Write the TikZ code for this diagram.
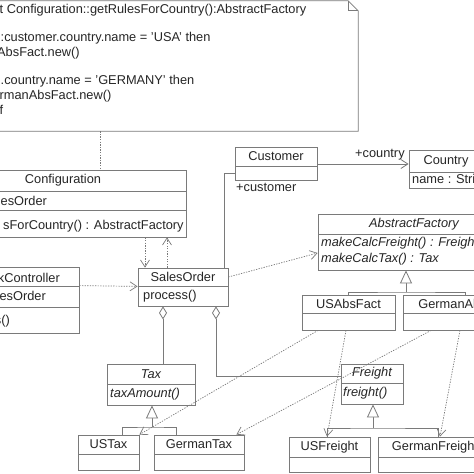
\documentclass[tikz,border=0pt]{standalone}
\usepackage{fontspec}
\setmainfont{Liberation Sans}
\usetikzlibrary{arrows.meta}

\definecolor{umlline}{HTML}{7A7A7A}
\definecolor{umltext}{HTML}{262626}

\tikzset{
  umlfont/.style={font=\fontsize{12.8}{15}\selectfont},
  cls/.style={draw=umlline, fill=white, line width=0.8pt, inner sep=0pt, text=umltext, umlfont},
  txt/.style={inner sep=0pt, anchor=west, text=umltext, umlfont},
  link/.style={draw=umlline, line width=0.8pt},
  dep/.style={draw=umlline, line width=0.7pt, dash pattern=on 1.3pt off 1.3pt, -{Straight Barb[length=7pt,width=9pt]}},
  gen/.style={link, -{Triangle[open,length=13pt,width=12pt,fill=white]}},
  agg/.style={link, {Diamond[open,length=13pt,width=8pt,fill=white]}-},
}

\begin{document}
\begin{tikzpicture}[x=1pt,y=-1pt]
\useasboundingbox (0,0) rectangle (474,474);
\clip (0,0) rectangle (474,474);
\fill[white] (0,0) rectangle (474,474);

% note
\node[inner sep=0pt, minimum width=368pt, minimum height=130pt] (note) at (174,66) {};
\draw[link] (note.north west) -- ([xshift=-10]note.north east) -- ([yshift=-10]note.north east)
  -- (note.south east) -- (note.south west) -- cycle;
\draw[link] ([xshift=-10]note.north east) -- ([xshift=-10,yshift=-10]note.north east) -- ([yshift=-10]note.north east);
\node[txt] (ocl1) at (-0.5,10) {t Configuration::getRulesForCountry():AbstractFactory};
\node[txt] (ocl2) at (0.5,38.5) {:customer.country.name = 'USA' then};
\node[txt] (ocl3) at (-3,53) {AbsFact.new()};
\node[txt] (ocl4) at (0.5,81.5) {.country.name = 'GERMANY' then};
\node[txt] (ocl5) at (-0.5,96) {rmanAbsFact.new()};
\node[txt] (ocl6) at (-0.5,110) {f};

% Configuration
\node[cls, minimum width=246pt, minimum height=21pt] (cfg) at (63,180.5) {Configuration};
\node[cls, minimum width=246pt, minimum height=19pt] (cfgA) at (63,200.5) {};
\node[cls, minimum width=246pt, minimum height=27pt] (cfgO) at (63,223.5) {};
\node[txt] (cfgAt) at (0.5,201) {esOrder};
\node[txt] (cfgOt) at (3,226) {sForCountry() : AbstractFactory};

% controller
\node[cls, minimum width=159pt, minimum height=19pt] (ctl) at (-0.5,276.5) {};
\node[cls, minimum width=159pt, minimum height=21pt] (ctlA) at (-0.5,296.5) {};
\node[cls, minimum width=159pt, minimum height=26pt] (ctlO) at (-0.5,320) {};
\node[txt, anchor=east] (ctlN) at (60,278) {kController};
\node[txt, anchor=east] (ctlAt) at (46,296) {esOrder};
\node[txt, anchor=east] (ctlOt) at (10,321) {s()};

% SalesOrder
\node[cls, minimum width=90pt, minimum height=18pt] (so) at (183,277) {SalesOrder};
\node[cls, minimum width=90pt, minimum height=20pt] (soO) at (183,296) {};
\node[txt] (soOt) at (143,296) {process()};

% Customer, Country
\node[cls, minimum width=82pt, minimum height=19pt] (cust) at (276,156.5) {Customer};
\node[cls, minimum width=82pt, minimum height=14pt] (custA) at (276,173) {};
\node[cls, minimum width=74pt, minimum height=22pt] (ctry) at (446,161) {Country};
\node[cls, minimum width=74pt, minimum height=16pt] (ctryA) at (446,180) {};
\node[txt] (ctryAt) at (412,180) {name : String};

% AbstractFactory
\node[cls, minimum width=192pt, minimum height=20pt, font=\fontsize{12.8}{15}\selectfont\itshape] (absf) at (414,224) {AbstractFactory};
\node[cls, minimum width=192pt, minimum height=36pt] (absfO) at (414,252) {};
\node[txt, font=\fontsize{12.8}{15}\selectfont\itshape] (absfO1) at (321,243) {makeCalcFreight() : Freight};
\node[txt, font=\fontsize{12.8}{15}\selectfont\itshape] (absfO2) at (321,259) {makeCalcTax() : Tax};

\node[cls, minimum width=93pt, minimum height=18pt] (usaf) at (348.5,304) {USAbsFact};
\node[cls, minimum width=93pt, minimum height=17pt] (usafA) at (348.5,321.5) {};
\node[cls, minimum width=124pt, minimum height=18pt] (gaf) at (465,304) {GermanAbsFact};
\node[cls, minimum width=124pt, minimum height=17pt] (gafA) at (465,321.5) {};

% Tax, Freight
\node[cls, minimum width=88pt, minimum height=20pt, font=\fontsize{12.8}{15}\selectfont\itshape] (tax) at (151,374) {Tax};
\node[cls, minimum width=88pt, minimum height=21pt] (taxO) at (151,394.5) {};
\node[txt, font=\fontsize{12.8}{15}\selectfont\itshape] (taxOt) at (110,394) {taxAmount()};
\node[cls, minimum width=62pt, minimum height=19pt, font=\fontsize{12.8}{15}\selectfont\itshape] (frt) at (372,373.5) {Freight};
\node[cls, minimum width=62pt, minimum height=21pt] (frtO) at (372,393.5) {};
\node[txt, font=\fontsize{12.8}{15}\selectfont\itshape] (frtOt) at (343,393) {freight()};

\node[cls, minimum width=61pt, minimum height=19pt] (ustax) at (108.5,444.5) {USTax};
\node[cls, minimum width=61pt, minimum height=16pt] (ustaxA) at (108.5,462) {};
\node[cls, minimum width=90pt, minimum height=19pt] (gtax) at (199,444.5) {GermanTax};
\node[cls, minimum width=90pt, minimum height=16pt] (gtaxA) at (199,462) {};
\node[cls, minimum width=81pt, minimum height=20pt] (usfr) at (329.5,447) {USFreight};
\node[cls, minimum width=81pt, minimum height=15pt] (usfrA) at (329.5,464.5) {};
\node[cls, minimum width=114pt, minimum height=20pt] (gfr) at (435,447) {GermanFreight};
\node[cls, minimum width=114pt, minimum height=15pt] (gfrA) at (435,464.5) {};

% connectors
\draw[link, dash pattern=on 1.3pt off 1.3pt] (note.south -| 100,0) -- (cfg.north -| 100,0);
\draw[dep] ([xshift=82]cfgO.south) -- ([xshift=-38]so.north);
\draw[dep] ([xshift=-16]so.north) -- ([xshift=104]cfgO.south);
\draw[dep] (ctlA.north east) -- (so.south west);
\draw[dep] (so.east) -- ([yshift=-1]absfO.west);

\draw[link] (custA.west) -| ([xshift=41]so.north);
\node[txt] (custL) at (236,187) {+customer};
\draw[link, -{Straight Barb[length=7pt,width=9pt]}] ([yshift=-7.5]cust.east) -- ([yshift=-7.5]cust.east -| ctry.west);
\node[txt] (ctryL) at (355,155) {+country};

\coordinate (afj) at (406,292);
\draw[link] (usaf.north) |- (afj) -| (gaf.north);
\draw[gen] (afj) -- (absfO.south -| afj);

\coordinate (txj) at (152,427);
\draw[link] ([xshift=13.5]ustax.north) |- (txj) -| ([xshift=-23]gtax.north);
\draw[gen] (txj) -- (taxO.south -| txj);

\coordinate (frj) at (373,428);
\draw[link] ([xshift=-2.5]usfr.north) |- (frj) -| ([xshift=3]gfr.north);
\draw[gen] (frj) -- (frtO.south -| frj);

\draw[agg] ([xshift=-20]soO.south) -- ([xshift=12]tax.north);
\draw[agg] ([xshift=33]soO.south) |- ([yshift=-2.5]frt.west);

\draw[dep] ([xshift=-30.5]usafA.south) -- (ustax.north east);
\draw[dep] ([xshift=-2.5]usafA.south) -- ([xshift=-2.5]usfr.north);
\draw[dep] ([xshift=-34]gafA.south) -- ([xshift=-8]gtax.north east);
\draw[dep] ([xshift=-5]gafA.south) -- ([xshift=5]gfr.north);
\end{tikzpicture}
\end{document}
